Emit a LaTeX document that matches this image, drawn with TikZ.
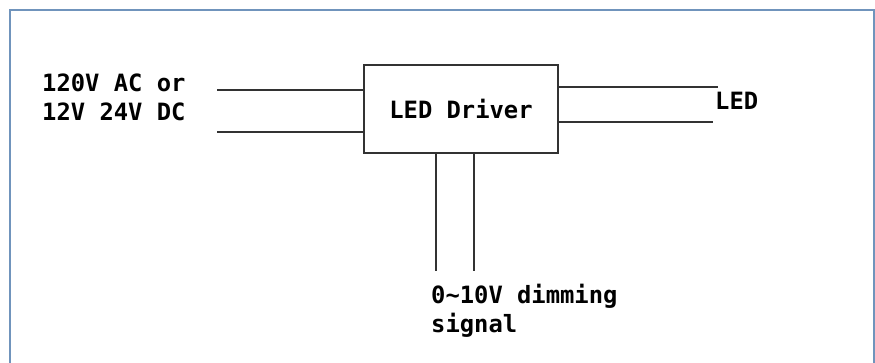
\documentclass[tikz,border=0pt]{standalone}
\usepackage{fontspec}
\usepackage{xcolor}
\usepackage{tikz}
\usetikzlibrary{calc}
\newfontfamily\pixfont{DejaVu Sans Mono}
\definecolor{framblue}{RGB}{112,148,188}
\definecolor{wiregray}{RGB}{50,50,50}

\begin{document}
\begin{tikzpicture}
    [x=1pt,y=-1pt,line join=miter,
     wire/.style={draw=wiregray,line width=1.8pt},
     lbl/.style={inner sep=0pt,font=\pixfont\bfseries\fontsize{23.8}{29}\selectfont}]

    \useasboundingbox (0,0) rectangle (875,363);
    % open frame
    \draw[framblue,line width=2.2pt] (10,363) -- (10,10) -- (874,10) -- (874,363);

    \node[wire,minimum width=194pt,minimum height=88pt,inner sep=0pt] (drv) at (461,109) {};
    \node[lbl] (drvtxt) at (drv.center) {LED Driver};

    \coordinate (inA) at (217,90);
    \coordinate (inB) at (217,132);
    \coordinate (outA) at (718,87);
    \coordinate (outB) at (713,122);
    \coordinate (dimA) at (436,271);
    \coordinate (dimB) at (474,271);

    \draw[wire] (inA) -- (inA -| drv.west);
    \draw[wire] (inB) -- (inB -| drv.west);
    \draw[wire] (outA -| drv.east) -- (outA);
    \draw[wire] (outB -| drv.east) -- (outB);
    \draw[wire] (dimA |- drv.south) -- (dimA);
    \draw[wire] (dimB |- drv.south) -- (dimB);

    \node[lbl,anchor=base west,align=left] (supply) at (42,121) {120V AC or\\12V 24V DC};
    \node[lbl,anchor=base west] (led) at (715,110) {LED};
    \node[lbl,anchor=base west,align=left] (dim) at (431,332) {0\textasciitilde10V dimming\\signal};
  \end{tikzpicture}
\end{document}
